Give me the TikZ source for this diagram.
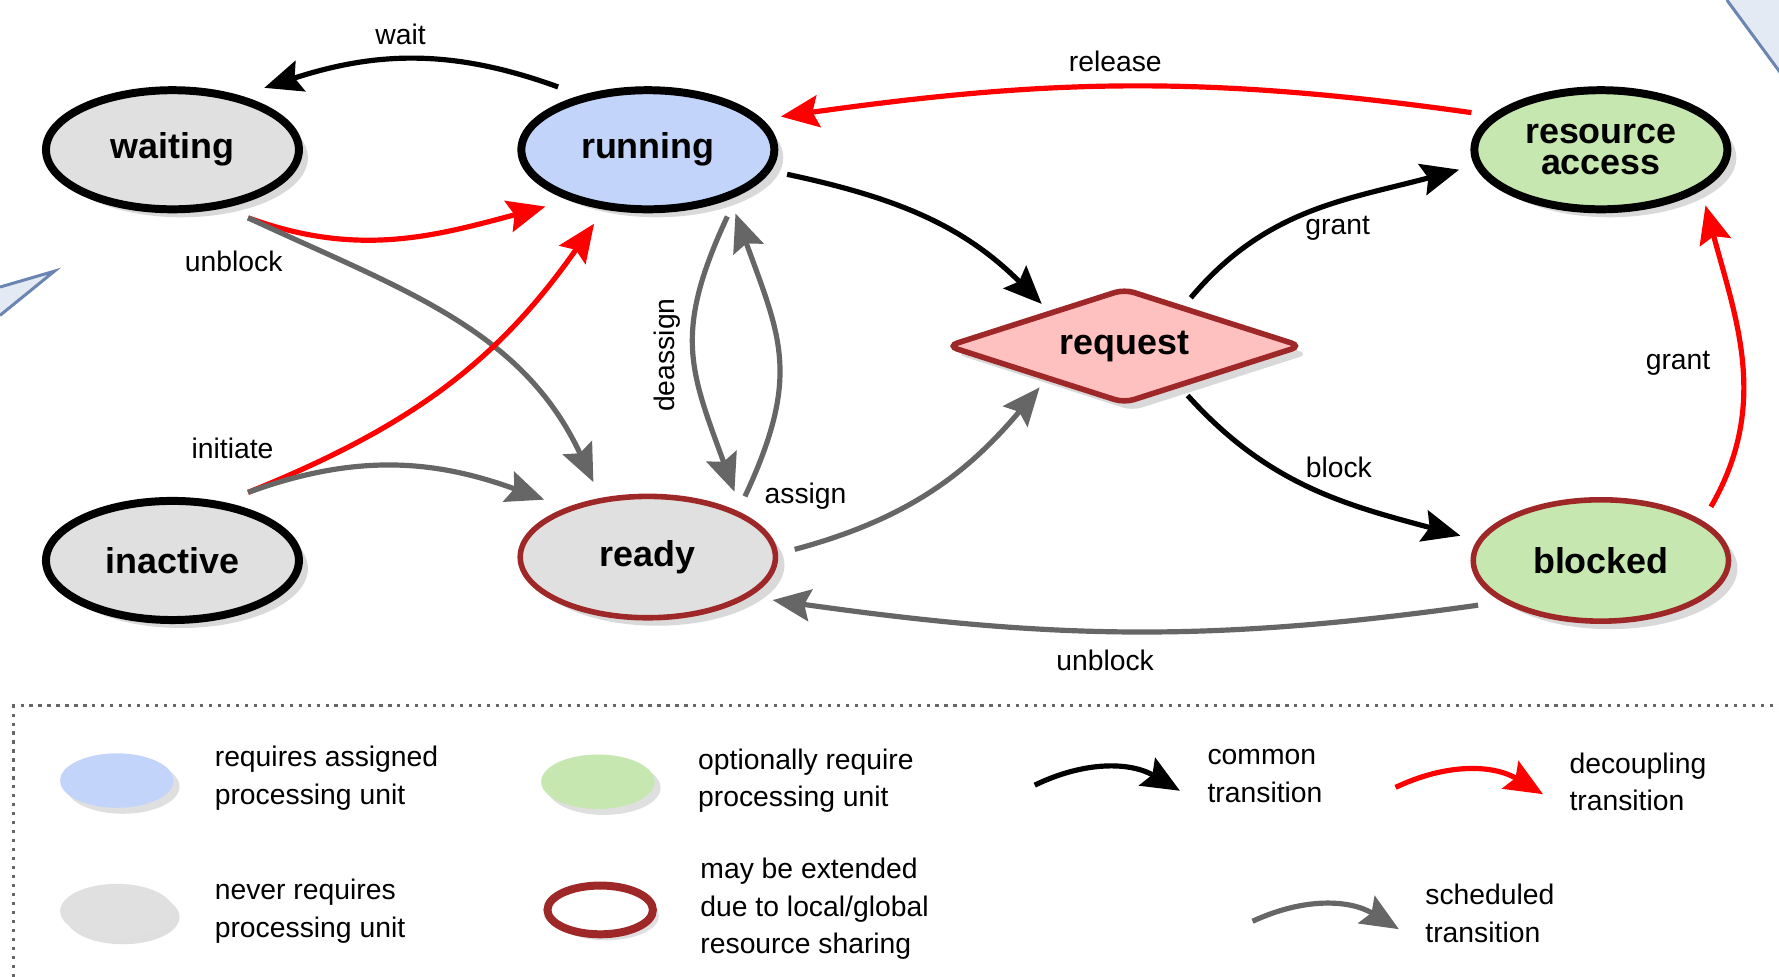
\documentclass[tikz,border=0pt]{standalone}
\usepackage{fontspec}
\setmainfont{Liberation Sans}
\usetikzlibrary{positioning,shapes.geometric,shadows,arrows.meta}

\definecolor{runblue}{RGB}{194,212,250}
\definecolor{stategray}{RGB}{224,224,224}
\definecolor{optgreen}{RGB}{198,232,176}
\definecolor{reqpink}{RGB}{255,192,192}
\definecolor{sharered}{RGB}{158,40,40}
\definecolor{schedgray}{RGB}{102,102,102}
\definecolor{decoblue}{RGB}{106,133,178}
\definecolor{decofill}{RGB}{228,234,244}

\tikzset{
  state/.style={ellipse, draw=black, line width=4pt, fill=stategray,
    minimum width=4.46cm, minimum height=2.1cm, inner sep=0pt, outer sep=10pt,
    font=\fontsize{18}{15.5}\selectfont\bfseries, align=center,
    drop shadow={shadow xshift=4.5pt, shadow yshift=-4pt, opacity=.3}},
  shared/.style={state, draw=sharered, line width=2.8pt,
    minimum width=4.5cm, minimum height=2.14cm},
  lbl/.style={font=\fontsize{14.2}{17}\selectfont, inner sep=0pt},
  common/.style={-{Stealth[length=19pt,width=16pt,inset=3pt]}, line width=2.6pt, black},
  decouple/.style={common, red},
  sched/.style={common, schedgray},
  keytext/.style={lbl, anchor=west, align=left, font=\fontsize{14.2}{18.8}\selectfont},
  keyshape/.style={ellipse, minimum width=2cm, minimum height=0.96cm, inner sep=0pt,
    drop shadow={shadow xshift=3pt, shadow yshift=-3pt, opacity=.25}}
}

\begin{document}
\begin{tikzpicture}[x=0.02cm, y=0.02cm]
    \useasboundingbox (0,0) rectangle (1568,-861);

    % corner pieces
    \draw[decoblue, line width=1.5pt, fill=decofill] (0,-253) -- (48,-239) -- (0,-278);
    \draw[decoblue, line width=1.5pt, fill=decofill] (1522,0) -- (1575,-72) -- (1575,0);

    % states
    \node[state] (waiting) at (152,-132) {waiting};
    \node[state, fill=runblue] (running) at (571,-132) {running};
    \node[state, fill=optgreen] (resource) at (1411,-132) {resource\\access};
    \node[state] (inactive) at (152,-494) {inactive};
    \node[shared] (ready) at (571,-491) {ready};
    \node[shared, fill=optgreen] (blocked) at (1411,-494) {blocked};
    \node[diamond, aspect=3.2, draw=sharered, line width=2.8pt, fill=reqpink, rounded corners=5pt,
        minimum width=6.4cm, minimum height=2.17cm, inner sep=0pt, outer sep=6pt,
        font=\fontsize{18}{15}\selectfont\bfseries,
        drop shadow={shadow xshift=4pt, shadow yshift=-4pt, opacity=.3}] (request) at (991,-305) {request};

    % transitions
    \draw[common] (running.145) to[out=160,in=18] (waiting.34);
    \draw[decouple] (resource.164) to[out=172,in=8] (running.14);
    \draw[common] (running.-10) to[out=-12,in=135] (request.153);
    \draw[common] (request.36) to[out=50,in=195] (resource.188);
    \draw[common] (request.-38) to[out=-48,in=165] (blocked.170);
    \draw[decouple] (blocked.26) to[out=60,in=-75] (resource.-28);
    \draw[sched] (blocked.200) to[out=188,in=-8] (ready.-19);
    \draw[sched] (ready.3) to[out=15,in=230] (request.206);
    \draw[sched] (ready.32) to[out=65,in=-70,looseness=1.2] (running.-36);
    \draw[sched] (running.-40) to[out=-115,in=110,looseness=1.2] (ready.37);
    \draw[decouple] (waiting.-42) to[out=-20,in=195] (running.209);
    \draw[sched] (waiting.-42) to[out=-25,in=115] (ready.126);
    \draw[decouple] (inactive.42) to[out=22,in=235] (running.234);
    \draw[sched] (inactive.42) to[out=20,in=160] (ready.151);

    % transition labels
    \node[lbl] (l-wait) at (353,-30) {wait};
    \node[lbl] (l-release) at (983,-54) {release};
    \node[lbl] (l-grant) at (1179,-201) {grant};
    \node[lbl] (l-block) at (1180,-412) {block};
    \node[lbl] (l-grant2) at (1479,-320) {grant};
    \node[lbl] (l-unblock) at (974,-582) {unblock};
    \node[lbl] (l-assign) at (710,-437) {assign};
    \node[lbl, rotate=90] (l-deassign) at (588,-313) {deassign};
    \node[lbl] (l-unblock2) at (206,-230) {unblock};
    \node[lbl] (l-initiate) at (205,-395) {initiate};

    % legend
    \draw[schedgray, line width=1.6pt, dash pattern=on 1.6pt off 2.9pt] (12,-861) -- (12,-622) -- (1568,-622);

    \node[keyshape, fill=runblue] (key-run) at (103,-688) {};
    \node[keytext] (txt-run) at (189,-686) {requires assigned\\processing unit};
    \node[keyshape, fill=stategray] (key-never) at (103,-803) {};
    \node[keytext] (txt-never) at (189,-803) {never requires\\processing unit};
    \node[keyshape, fill=optgreen] (key-opt) at (527,-689) {};
    \node[keytext] (txt-opt) at (615,-688) {optionally require\\processing unit};
    \node[keyshape, draw=sharered, line width=4pt, fill=white,
        minimum width=1.86cm, minimum height=0.86cm] (key-share) at (529,-802) {};
    \node[keytext] (txt-share) at (617,-801) {may be extended\\due to local/global\\resource sharing};

    \coordinate (cm-a) at (912,-692);
    \coordinate (cm-b) at (1040,-697);
    \draw[common] (cm-a) to[bend left=28] (cm-b);
    \node[keytext] (txt-cm) at (1064,-684) {common\\transition};

    \coordinate (dc-a) at (1230,-694);
    \coordinate (dc-b) at (1360,-700);
    \draw[decouple] (dc-a) to[bend left=28] (dc-b);
    \node[keytext] (txt-dc) at (1383,-689) {decoupling\\transition};

    \coordinate (sc-a) at (1104,-812);
    \coordinate (sc-b) at (1233,-819);
    \draw[sched] (sc-a) to[bend left=28] (sc-b);
    \node[keytext] (txt-sc) at (1256,-805) {scheduled\\transition};
\end{tikzpicture}
\end{document}
